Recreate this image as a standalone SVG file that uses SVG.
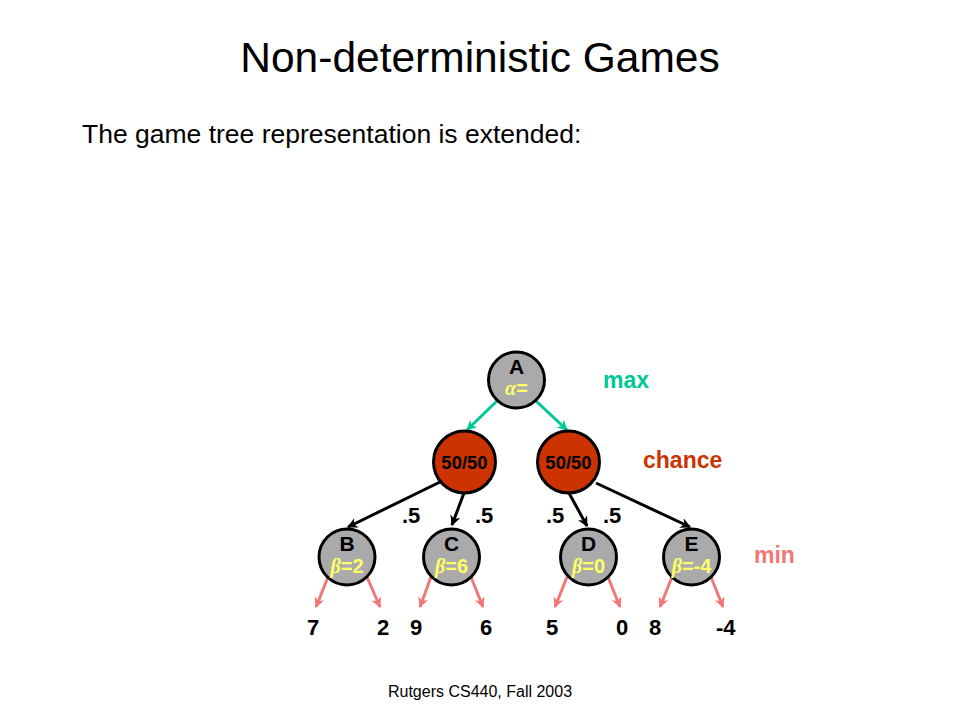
<svg xmlns="http://www.w3.org/2000/svg" width="960" height="720" viewBox="0 0 960 720">
<style>
text{font-family:"Liberation Sans",Arial,sans-serif}
.b{font-weight:bold}
.lbl{font-weight:bold;font-size:21px;text-anchor:middle;fill:#000}
.val{font-weight:bold;font-size:22px;fill:#000}
.gval{font-weight:bold;font-size:20px;text-anchor:middle;fill:#ffff66}
.gn{fill:#aaaaaa;stroke:#000;stroke-width:3}
.ch{fill:#cc3300;stroke:#000;stroke-width:3}
.eg{stroke:#00c896;stroke-width:3;fill:none}
.eb{stroke:#000;stroke-width:3;fill:none}
.ep{stroke:#f07878;stroke-width:3;fill:none}
</style>
<defs>
<marker id="ag" viewBox="0 0 10 10" refX="9" refY="5" markerWidth="3.5" markerHeight="3.5" orient="auto" markerUnits="strokeWidth"><path d="M0,0 L10,5 L0,10 L3,5 z" fill="#00c896"/></marker>
<marker id="ab" viewBox="0 0 10 10" refX="9" refY="5" markerWidth="3.5" markerHeight="3.5" orient="auto" markerUnits="strokeWidth"><path d="M0,0 L10,5 L0,10 L3,5 z" fill="#000"/></marker>
<marker id="ap" viewBox="0 0 10 10" refX="9" refY="5" markerWidth="3.5" markerHeight="3.5" orient="auto" markerUnits="strokeWidth"><path d="M0,0 L10,5 L0,10 L3,5 z" fill="#f07878"/></marker>
</defs>
<rect width="960" height="720" fill="#fff"/>
<text x="480" y="72" font-size="42.5" text-anchor="middle">Non-deterministic Games</text>
<text x="82" y="143" font-size="26.5">The game tree representation is extended:</text>
<text x="480" y="697" font-size="16" text-anchor="middle">Rutgers CS440, Fall 2003</text>

<g id="connectors">
<line class="eg" x1="497" y1="401" x2="467" y2="430" marker-end="url(#ag)"/>
<line class="eg" x1="536" y1="401" x2="567" y2="430" marker-end="url(#ag)"/>
<line class="eb" x1="440" y1="482" x2="348" y2="527" marker-end="url(#ab)"/>
<line class="eb" x1="464" y1="493" x2="452" y2="525" marker-end="url(#ab)"/>
<line class="eb" x1="569" y1="493" x2="587" y2="526" marker-end="url(#ab)"/>
<line class="eb" x1="596" y1="483" x2="690" y2="527" marker-end="url(#ab)"/>
<line class="ep" x1="328" y1="577" x2="316" y2="607" marker-end="url(#ap)"/>
<line class="ep" x1="367" y1="577" x2="380" y2="607" marker-end="url(#ap)"/>
<line class="ep" x1="431" y1="577" x2="420" y2="607" marker-end="url(#ap)"/>
<line class="ep" x1="471" y1="577" x2="483" y2="607" marker-end="url(#ap)"/>
<line class="ep" x1="567" y1="577" x2="555" y2="607" marker-end="url(#ap)"/>
<line class="ep" x1="608" y1="577" x2="620" y2="607" marker-end="url(#ap)"/>
<line class="ep" x1="672" y1="577" x2="660" y2="607" marker-end="url(#ap)"/>
<line class="ep" x1="711" y1="577" x2="723" y2="607" marker-end="url(#ap)"/>
</g>

<g id="nodeA">
<circle class="gn" cx="516.5" cy="380" r="28"/>
<text class="lbl" x="516.5" y="374">A</text>
<text class="gval" x="516.5" y="395"><tspan font-family="Liberation Serif,serif" font-style="italic">α</tspan>=</text>
</g>
<g id="chanceL">
<circle class="ch" cx="464.5" cy="462" r="31"/>
<text class="b" x="464.5" y="469" font-size="18.5" text-anchor="middle">50/50</text>
</g>
<g id="chanceR">
<circle class="ch" cx="568.5" cy="462" r="31"/>
<text class="b" x="568.5" y="469" font-size="18.5" text-anchor="middle">50/50</text>
</g>
<g id="nodeB">
<circle class="gn" cx="347" cy="557" r="28"/>
<text class="lbl" x="347" y="551">B</text>
<text class="gval" x="347" y="573"><tspan font-family="Liberation Serif,serif" font-style="italic">β</tspan>=2</text>
</g>
<g id="nodeC">
<circle class="gn" cx="451.5" cy="557" r="28"/>
<text class="lbl" x="451.5" y="551">C</text>
<text class="gval" x="451.5" y="573"><tspan font-family="Liberation Serif,serif" font-style="italic">β</tspan>=6</text>
</g>
<g id="nodeD">
<circle class="gn" cx="588.5" cy="557" r="28"/>
<text class="lbl" x="588.5" y="551">D</text>
<text class="gval" x="588.5" y="573"><tspan font-family="Liberation Serif,serif" font-style="italic">β</tspan>=0</text>
</g>
<g id="nodeE">
<circle class="gn" cx="691.5" cy="557" r="28"/>
<text class="lbl" x="691.5" y="551">E</text>
<text class="gval" x="691.5" y="573"><tspan font-family="Liberation Serif,serif" font-style="italic">β</tspan>=-4</text>
</g>

<g id="labels">
<text class="b" x="603" y="388" font-size="23" fill="#00c896">max</text>
<text class="b" x="643" y="468" font-size="23" fill="#cc3300">chance</text>
<text class="b" x="754" y="563" font-size="23" fill="#f07878">min</text>
<text class="val" x="402" y="523">.5</text>
<text class="val" x="475" y="523">.5</text>
<text class="val" x="546" y="523">.5</text>
<text class="val" x="603" y="523">.5</text>
</g>

<g id="leaves">
<text class="val" x="307" y="635">7</text>
<text class="val" x="377" y="635">2</text>
<text class="val" x="410" y="635">9</text>
<text class="val" x="480" y="635">6</text>
<text class="val" x="546" y="635">5</text>
<text class="val" x="616" y="635">0</text>
<text class="val" x="649" y="635">8</text>
<text class="val" x="716" y="635">-4</text>
</g>
</svg>
